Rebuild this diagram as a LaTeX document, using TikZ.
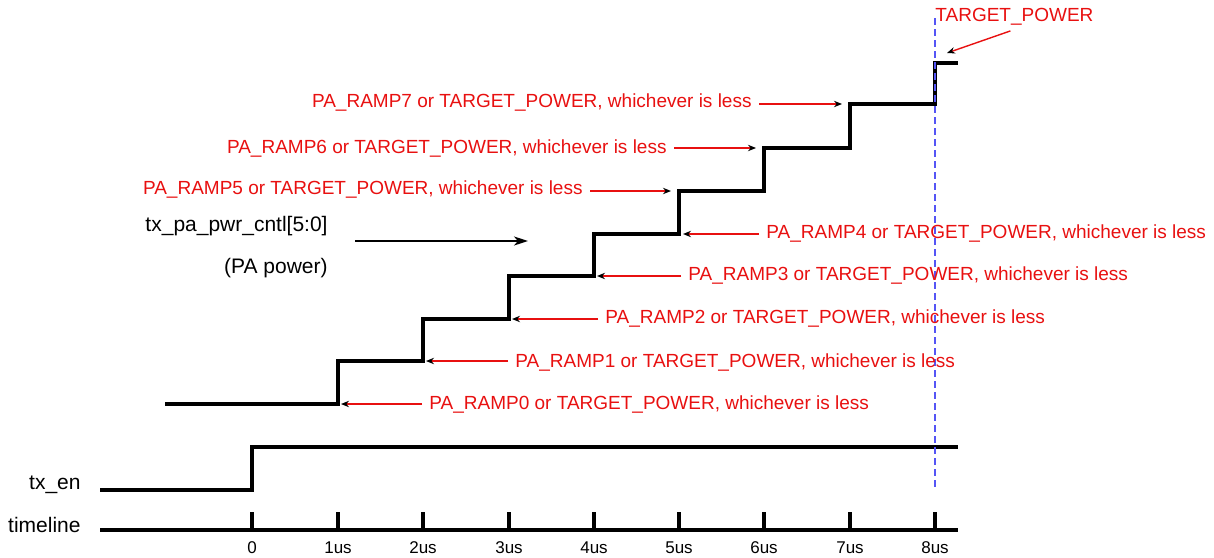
\documentclass[tikz,border=0pt]{standalone}
\usepackage{fontspec}
\setmainfont{Liberation Sans}
\usepackage{xcolor}
\usepackage{tikz}
\usetikzlibrary{arrows.meta, positioning, calc}
\definecolor{notered}{RGB}{232,16,16}
\definecolor{markblue}{RGB}{85,85,245}
\tikzset{
  wave/.style={line width=2pt, color=black},
  signame/.style={font=\fontsize{10.5}{12}\selectfont, anchor=east, inner sep=0pt},
  ticklabel/.style={font=\fontsize{8.5}{10}\selectfont, inner sep=0pt},
  note/.style={text=notered, font=\fontsize{9.5}{11}\selectfont, inner sep=0pt,
    inner xsep=3.5pt},
  ptr/.style={notered, line width=0.7pt,
    -{Stealth[length=4pt, width=3.2pt, color=black]}},
  bigptr/.style={line width=1pt, -{Stealth[length=7pt, width=4.5pt, inset=2pt]}},
  marker/.style={markblue, line width=0.6pt, dash pattern=on 3.5pt off 2pt},
}

\begin{document}
\begin{tikzpicture}[x=0.5pt, y=-0.5pt]
  \useasboundingbox (0,0) rectangle (1214,557);
  % signal names
  \node[signame] (pwr) at (328,226) {tx\_pa\_pwr\_cntl[5:0]};
  \node[signame] (pwrsub) at (328,268) {(PA power)};
  \node[signame] (txen) at (81,485) {tx\_en};
  \node[signame] (tline) at (81,525) {timeline};
  \coordinate (pwrA) at (355,241);
  \coordinate (pwrB) at (528,241);
  \draw[bigptr] (pwrA) -- (pwrB);

  % timeline with ticks
  \draw[wave] (100,530) -- (958,530);
  \foreach \x/\lab [count=\i] in {252/0, 338/1us, 423/2us, 509/3us, 594/4us,
      679/5us, 764/6us, 850/7us, 935/8us} {
    \draw[wave] (\x,512) -- (\x,530);
    \node[ticklabel] (tick\i) at (\x,548) {\lab};
  }

  % tx_en
  \draw[wave] (100,490) -- (252,490) -- (252,447) -- (958,447);

  % PA power staircase
  \draw[wave] (165,404) -| (338,361) -| (423,319) -| (509,276) -| (594,234)
    -| (679,191) -| (764,148) -| (850,104) -| (935,63) -- (958,63);

  % target power marker
  \draw[marker] (935,18) -- (935,490);

  % ramp notes, right of the steps
  \coordinate (t0) at (341,404);
  \coordinate (t1) at (426,361);
  \coordinate (t2) at (512,319);
  \coordinate (t3) at (597,276);
  \coordinate (t4) at (683,234);
  \node[note, anchor=west] (r0) at (422,404) {PA\_RAMP0 or TARGET\_POWER, whichever is less};
  \node[note, anchor=west] (r1) at (508,362) {PA\_RAMP1 or TARGET\_POWER, whichever is less};
  \node[note, anchor=west] (r2) at (598,318) {PA\_RAMP2 or TARGET\_POWER, whichever is less};
  \node[note, anchor=west] (r3) at (681,275) {PA\_RAMP3 or TARGET\_POWER, whichever is less};
  \node[note, anchor=west] (r4) at (759,233) {PA\_RAMP4 or TARGET\_POWER, whichever is less};
  \draw[ptr] (r0.west |- t0) -- (t0);
  \draw[ptr] (r1.west |- t1) -- (t1);
  \draw[ptr] (r2.west |- t2) -- (t2);
  \draw[ptr] (r3.west |- t3) -- (t3);
  \draw[ptr] (r4.west |- t4) -- (t4);

  % ramp notes, left of the steps
  \coordinate (t5) at (671,191);
  \coordinate (t6) at (756,148);
  \coordinate (t7) at (842,104);
  \node[note, anchor=east] (r5) at (590,190) {PA\_RAMP5 or TARGET\_POWER, whichever is less};
  \node[note, anchor=east] (r6) at (674,149) {PA\_RAMP6 or TARGET\_POWER, whichever is less};
  \node[note, anchor=east] (r7) at (759,103) {PA\_RAMP7 or TARGET\_POWER, whichever is less};
  \draw[ptr] (r5.east |- t5) -- (t5);
  \draw[ptr] (r6.east |- t6) -- (t6);
  \draw[ptr] (r7.east |- t7) -- (t7);

  % final level
  \node[note, anchor=west, inner xsep=0pt] (tp) at (935,17) {TARGET\_POWER};
  \coordinate (ttp) at (947,53);
  \draw[ptr] ($(tp.south)+(-4,5)$) -- (ttp);
\end{tikzpicture}
\end{document}
